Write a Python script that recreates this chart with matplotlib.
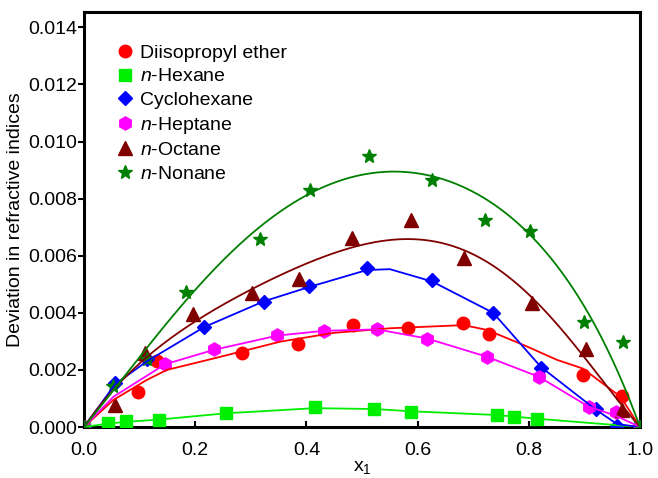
import numpy as np
import matplotlib
matplotlib.use("Agg")
import matplotlib.pyplot as plt

plt.rcParams['font.family'] = ['Liberation Sans', 'DejaVu Sans']
plt.rcParams['mathtext.fontset'] = 'custom'
plt.rcParams['mathtext.rm'] = 'Liberation Sans'
plt.rcParams['mathtext.it'] = 'Liberation Sans:italic'

# experimental points (x1, deviation)
ether_x = [0.0, 0.097, 0.131, 0.284, 0.385, 0.484, 0.582, 0.682, 0.729, 0.897, 0.967, 1.0]
ether_y = [0.0, 0.00122, 0.00230, 0.00261, 0.00292, 0.00357, 0.00348, 0.00365, 0.00325, 0.00182, 0.00109, 0.0]

hexane_x = [0.0, 0.044, 0.075, 0.135, 0.255, 0.415, 0.522, 0.589, 0.743, 0.773, 0.815, 1.0]
hexane_y = [0.0, 0.00013, 0.00021, 0.00025, 0.00048, 0.00069, 0.00062, 0.00054, 0.00042, 0.00036, 0.00028, 0.0]

cyclo_x = [0.0, 0.056, 0.113, 0.216, 0.323, 0.404, 0.509, 0.626, 0.736, 0.822, 0.921, 0.959, 1.0]
cyclo_y = [0.0, 0.00155, 0.00237, 0.00349, 0.00439, 0.00494, 0.00556, 0.00515, 0.00400, 0.00208, 0.00063, 0.00003, 0.0]

heptane_x = [0.0, 0.146, 0.233, 0.347, 0.431, 0.527, 0.617, 0.725, 0.818, 0.908, 0.956, 1.0]
heptane_y = [0.0, 0.00221, 0.00272, 0.00322, 0.00337, 0.00342, 0.00308, 0.00246, 0.00176, 0.00071, 0.00051, 0.0]

octane_x = [0.0, 0.056, 0.110, 0.196, 0.303, 0.387, 0.482, 0.588, 0.684, 0.806, 0.903, 0.967, 1.0]
octane_y = [0.0, 0.00077, 0.00258, 0.00396, 0.00468, 0.00517, 0.00663, 0.00725, 0.00591, 0.00435, 0.00272, 0.00060, 0.0]

nonane_x = [0.0, 0.053, 0.113, 0.184, 0.316, 0.407, 0.512, 0.626, 0.722, 0.803, 0.899, 0.970, 1.0]
nonane_y = [0.0, 0.00145, 0.00238, 0.00474, 0.00660, 0.00830, 0.00950, 0.00865, 0.00725, 0.00688, 0.00369, 0.00297, 0.0]

# correlated curves
ether_fx = [0.0, 0.053, 0.113, 0.149, 0.233, 0.353, 0.45, 0.551, 0.683, 0.725, 0.791, 0.851, 0.897, 0.965, 1.0]
ether_fy = [0.0, 0.00095, 0.00165, 0.00200, 0.00240, 0.00299, 0.00330, 0.00346, 0.00357, 0.00340, 0.00287, 0.00235, 0.00205, 0.00106, 0.0]

hexane_fx = [0.0, 0.044, 0.075, 0.135, 0.255, 0.415, 0.522, 0.589, 0.743, 0.815, 1.0]
hexane_fy = [0.0, 0.00012, 0.00018, 0.00026, 0.00048, 0.00066, 0.00063, 0.00055, 0.00042, 0.00029, 0.0]

cyclo_fx = [0.0, 0.056, 0.113, 0.216, 0.323, 0.404, 0.509, 0.55, 0.626, 0.736, 0.822, 0.921, 0.959, 1.0]
cyclo_fy = [0.0, 0.00150, 0.00230, 0.00350, 0.00440, 0.00490, 0.00550, 0.00553, 0.00510, 0.00400, 0.00210, 0.00060, 0.00010, 0.0]

heptane_fx = [0.0, 0.053, 0.146, 0.233, 0.347, 0.431, 0.527, 0.617, 0.725, 0.818, 0.908, 0.956, 1.0]
heptane_fy = [0.0, 0.00106, 0.00220, 0.00270, 0.00320, 0.00337, 0.00342, 0.00310, 0.00246, 0.00176, 0.00071, 0.00040, 0.0]

octane_fx = [0.0, 0.05, 0.107, 0.195, 0.281, 0.35, 0.443, 0.52, 0.587, 0.683, 0.75, 0.803, 0.85, 0.899, 0.95, 1.0]
octane_fy = [0.0, 0.00120, 0.00250, 0.00360, 0.00450, 0.00520, 0.00610, 0.00650, 0.00669, 0.00620, 0.00544, 0.00456, 0.00360, 0.00246, 0.00120, 0.0]

nonane_fx = [0.0, 0.053, 0.113, 0.185, 0.239, 0.287, 0.329, 0.407, 0.46, 0.515, 0.551, 0.626, 0.725, 0.803, 0.863, 0.911, 0.947, 1.0]
nonane_fy = [0.0, 0.00135, 0.00260, 0.00430, 0.00580, 0.00670, 0.00730, 0.00820, 0.00860, 0.00889, 0.00888, 0.00868, 0.00778, 0.00688, 0.00538, 0.00386, 0.00246, 0.0]


def smooth_rk(fx, fy, deg=4):
    # Redlich-Kister type smoothing of the read curve: y = x(1-x) * P(2x-1)
    x = np.array(fx[1:-1])
    y = np.array(fy[1:-1])
    coef = np.polyfit(2 * x - 1, y / (x * (1 - x)), deg)
    xs = np.linspace(0, 1, 200)
    return xs, xs * (1 - xs) * np.polyval(coef, 2 * xs - 1)


fig = plt.figure(figsize=(6.58, 4.78), dpi=100)
ax = fig.add_axes([84/658, 1-427/478, 556/658, 415/478])

series = [
    (ether_x, ether_y, ether_fx, ether_fy, 'o', '#ff0000', 9, 'Diisopropyl ether', False),
    (hexane_x, hexane_y, hexane_fx, hexane_fy, 's', '#00ee00', 8, r'$\it{n}$-Hexane', False),
    (cyclo_x, cyclo_y, cyclo_fx, cyclo_fy, 'D', '#0000ff', 7.5, 'Cyclohexane', False),
    (heptane_x, heptane_y, heptane_fx, heptane_fy, 'h', '#ff00ff', 9.5, r'$\it{n}$-Heptane', False),
    (octane_x, octane_y, octane_fx, octane_fy, '^', '#800000', 9.5, r'$\it{n}$-Octane', True),
    (nonane_x, nonane_y, nonane_fx, nonane_fy, '*', '#008000', 10, r'$\it{n}$-Nonane', True),
]

for px, py, fx, fy, m, c, ms, lab, sm in series:
    ax.plot(px, py, linestyle='none', marker=m, color=c, markersize=ms, label=lab, zorder=3)
    if sm:
        lx, ly = smooth_rk(fx, fy)
    else:
        lx, ly = fx, fy
    ax.plot(lx, ly, color=c, linewidth=1.3, zorder=4)

ax.set_xlim(0, 1.0)
ax.set_ylim(0, 0.01454)
ax.set_xticks([0.0, 0.2, 0.4, 0.6, 0.8, 1.0])
ax.set_yticks([0.0, 0.002, 0.004, 0.006, 0.008, 0.010, 0.012, 0.014])
ax.set_xticklabels(['0.0', '0.2', '0.4', '0.6', '0.8', '1.0'])
ax.set_yticklabels(['0.000', '0.002', '0.004', '0.006', '0.008', '0.010', '0.012', '0.014'])
ax.tick_params(axis='x', direction='in', length=4, width=1.5, labelsize=14, pad=11)
ax.tick_params(axis='y', direction='out', length=4, width=1.5, labelsize=14, pad=1)
for s in ax.spines.values():
    s.set_linewidth(2.2)

ax.set_xlabel(r'x$_\mathregular{1}$', fontsize=14, labelpad=0)
ax.set_ylabel('Deviation in refractive indices', fontsize=14, labelpad=3)

ax.legend(loc='upper left', bbox_to_anchor=(0.03, 0.955), frameon=False, fontsize=14,
          handletextpad=0.2, labelspacing=0.3, handlelength=1.1, borderaxespad=0.3)

fig.savefig('out.png', dpi=100)
